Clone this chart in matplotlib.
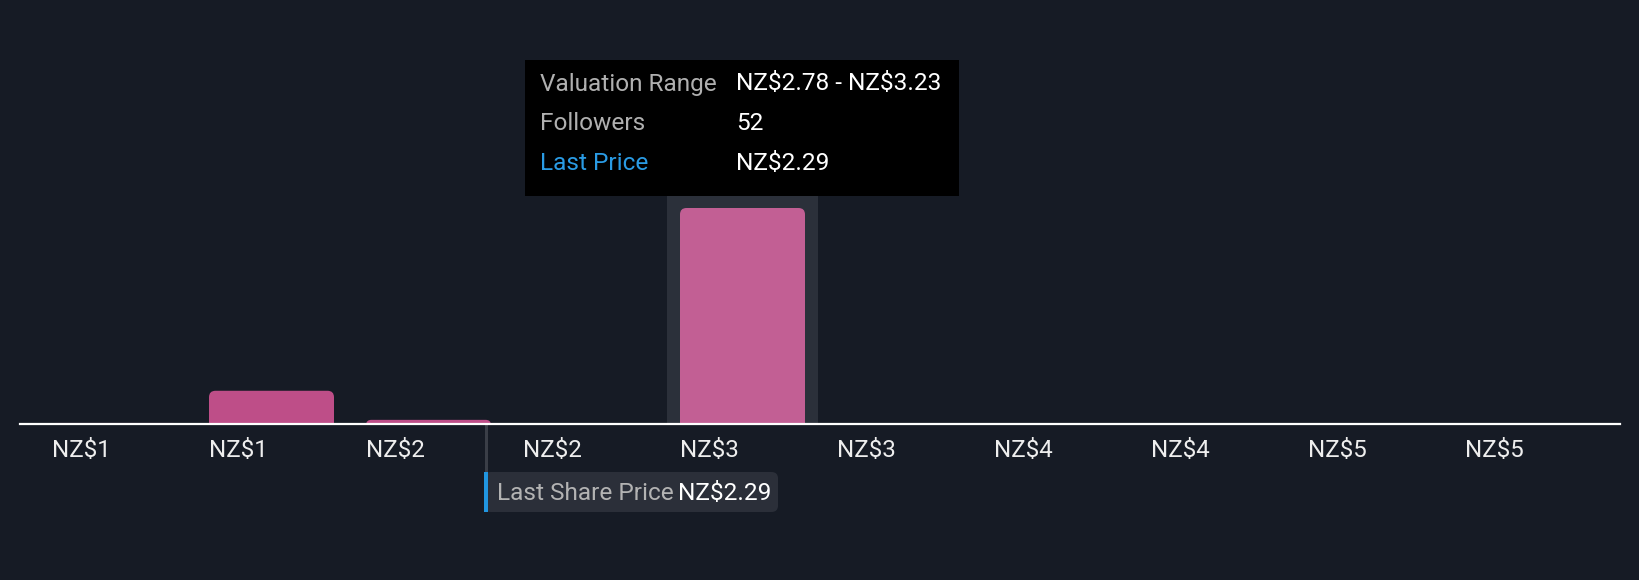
import matplotlib
matplotlib.use("Agg")
import matplotlib.pyplot as plt
from matplotlib.patches import FancyBboxPatch, Rectangle
from matplotlib.transforms import blended_transform_factory

plt.rcParams['font.family'] = ['Roboto', 'DejaVu Sans']

# ---- data ----
bin_start = 0.98
bin_width = 0.45
followers = [0.25, 8, 1, 0, 52, 0, 0, 0, 0, 0]
tick_labels = ["NZ$1", "NZ$1", "NZ$2", "NZ$2", "NZ$3", "NZ$3", "NZ$4", "NZ$4", "NZ$5", "NZ$5"]
last_price = 2.29
hover_index = 4
tooltip_rows = [("Valuation Range", "NZ$2.78 - NZ$3.23"),
                ("Followers", "52"),
                ("Last Price", "NZ$2.29")]

# ---- style ----
BG = "#161b25"
BAR = "#be4e88"
BAR_HOVER = "#c25f94"
BAND = "#2b303a"
W, H, DPI = 1640, 580, 100
FS_TICK = 17.4
FS_TT = 17.6

fig = plt.figure(figsize=(W / DPI, H / DPI), dpi=DPI, facecolor=BG)
ax_left, ax_right = 20, 1620
ax_bottom_px, ax_top_px = 424, 60  # from top
ax = fig.add_axes([ax_left / W, (H - ax_bottom_px) / H,
                   (ax_right - ax_left) / W, (ax_bottom_px - ax_top_px) / H])
ax.set_facecolor(BG)

n = len(followers)
pad_l_px, pad_r_px = 9, 21
xs = (ax_right - ax_left - pad_l_px - pad_r_px) / (n * bin_width)   # px per x unit
ax.set_xlim(bin_start - pad_l_px / xs, bin_start + n * bin_width + pad_r_px / xs)
ymax = 52 * (ax_bottom_px - ax_top_px) / 216.0
ax.set_ylim(0, ymax)
ys = (ax_bottom_px - ax_top_px) / ymax                  # px per y unit

bar_w = 125 / xs
bar_off = 23 / xs
band_w = 151 / xs
r_px = 6.5

# hover band
hc = bin_start + hover_index * bin_width + bar_off + bar_w / 2
ax.add_patch(Rectangle((hc - band_w / 2, 0), band_w, (ax_bottom_px - 196) / ys,
                       facecolor=BAND, edgecolor="none", zorder=1))

# bars
for i, v in enumerate(followers):
    if v <= 0:
        continue
    x0 = bin_start + i * bin_width + bar_off
    h_px = v * ys
    tot_px = h_px + r_px
    r_eff = min(r_px, tot_px / 2)
    y0 = -r_px / ys
    col = BAR_HOVER if i == hover_index else BAR
    p = FancyBboxPatch((x0, y0), bar_w, tot_px / ys,
                       boxstyle=f"round,pad=0,rounding_size={r_eff / xs}",
                       mutation_aspect=xs / ys,
                       facecolor=col, edgecolor="none", zorder=2)
    ax.add_patch(p)

# axes styling
for s in ["top", "right", "left"]:
    ax.spines[s].set_visible(False)
ax.spines["bottom"].set_color("white")
ax.spines["bottom"].set_linewidth(1.6)
ax.spines["bottom"].set_zorder(5)
ax.set_yticks([])
tick_pos = [bin_start + i * bin_width + bar_off for i in range(n)]
ax.set_xticks(tick_pos)
ax.set_xticklabels(tick_labels, ha="left", color="#eeeeee", fontsize=FS_TICK)
ax.tick_params(axis="x", length=0, pad=11)

# last price marker line
bt = blended_transform_factory(ax.transData, ax.transAxes)
axes_h = ax_bottom_px - ax_top_px
ax.plot([last_price, last_price], [0, -(472 - ax_bottom_px) / axes_h], transform=bt,
        color="#3a3e47", lw=2.2, clip_on=False, zorder=1, solid_capstyle="butt")

# pixel helper (top-origin)
def fx(px):
    return px / W

def fy(py):
    return (H - py) / H

lp_px = ax.transData.transform((last_price, 0))[0]
box_l = lp_px - 2
box = FancyBboxPatch((fx(box_l), fy(512)), fx(294), (512 - 472) / H,
                     boxstyle="round,pad=0,rounding_size=0.004",
                     mutation_aspect=W / H,
                     transform=fig.transFigure, facecolor="#2b2f39",
                     edgecolor="none", zorder=3)
fig.patches.append(box)
fig.patches.append(Rectangle((fx(box_l), fy(512)), fx(4), (512 - 472) / H,
                             transform=fig.transFigure, facecolor="#2196e0",
                             edgecolor="none", zorder=4))
fig.text(fx(box_l + 13), fy(493), "Last Share Price", color="#b3b3b3",
         fontsize=FS_TT, va="center", ha="left", zorder=5, parse_math=False)
fig.text(fx(box_l + 194), fy(493), "NZ$2.29", color="white",
         fontsize=FS_TT, va="center", ha="left", zorder=5, parse_math=False)

# tooltip
hc_px = ax.transData.transform((hc, 0))[0]
tt_w = 434
tt_l = hc_px - tt_w / 2
fig.patches.append(Rectangle((fx(tt_l), fy(196)), fx(tt_w), (196 - 60) / H,
                             transform=fig.transFigure, facecolor="black",
                             edgecolor="none", zorder=3))
row_y = [84, 124, 164]
for (lab, val), yy in zip(tooltip_rows, row_y):
    lc = "#2a9be4" if lab == "Last Price" else "#b0b0b0"
    fig.text(fx(tt_l + 15), fy(yy), lab, color=lc, fontsize=FS_TT,
             va="center", ha="left", zorder=5, parse_math=False)
    fig.text(fx(tt_l + 211), fy(yy), val, color="white", fontsize=FS_TT,
             va="center", ha="left", zorder=5, parse_math=False)

fig.savefig("out.png", dpi=DPI, facecolor=BG)
